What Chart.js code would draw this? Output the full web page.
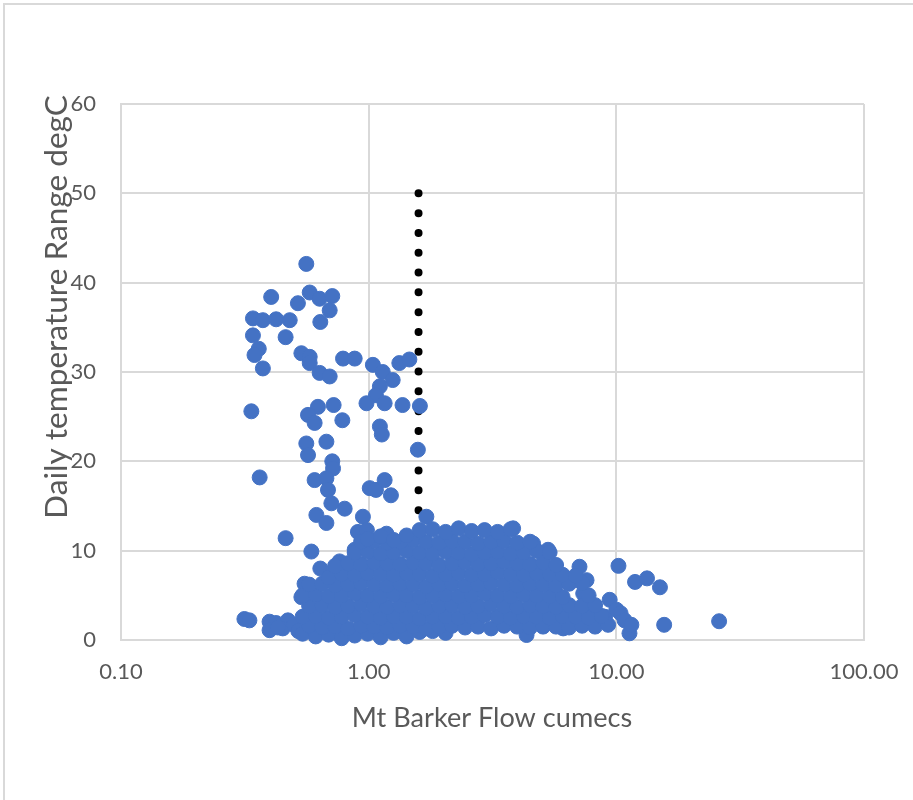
<!DOCTYPE html>
<html><head><meta charset="utf-8">
<script src="https://cdn.jsdelivr.net/npm/chart.js@4"></script>
<style>
html,body{margin:0;padding:0;background:#fff;overflow:hidden}
#wrap{position:relative;width:913px;height:800px}
#frame{position:absolute;left:3px;top:3px;width:1000px;height:1000px;border-top:2px solid #d9d9d9;border-left:2px solid #d9d9d9;pointer-events:none}
</style></head><body>
<div id="wrap"><canvas id="c"></canvas><div id="frame"></div></div>
<script>
// ---- data ----
const xTitle = 'Mt Barker Flow cumecs';
const yTitle = 'Daily temperature Range degC';
const xTicks = [0.1, 1, 10, 100];
const yTicks = [0, 10, 20, 30, 40, 50, 60];

// scattered high-range days (low flow)
const upperFlow = [0.56,0.404,0.518,0.578,0.634,0.713,0.696,0.638,0.341,0.374,0.423,0.48,0.462,0.341,0.36,0.346,0.374,0.535,0.578,0.578,0.634,0.696,0.788,0.878,1.04,1.14,1.25,1.33,1.46,1.11,1.07,0.98,1.16,1.37,1.61,0.336,0.624,0.722,0.569,0.605,0.783,0.675,0.56,0.569,1.11,1.13,1.58,0.713,0.718,0.363,0.605,0.675,0.685,0.707,0.8,0.615,0.675,1.01,1.07,1.16,1.23,0.948,1.71,0.462];
const upperRange = [42.1,38.4,37.7,38.9,38.2,38.5,36.9,35.6,36.0,35.8,35.9,35.8,33.9,34.1,32.6,31.9,30.4,32.1,31.7,31.0,29.9,29.5,31.5,31.5,30.8,30.0,29.1,31.0,31.4,28.4,27.4,26.5,26.5,26.3,26.2,25.6,26.1,26.3,25.2,24.3,24.6,22.2,22.0,20.7,23.9,23.0,21.3,20.0,19.2,18.2,17.9,18.1,16.8,15.3,14.7,14.0,13.1,17.0,16.8,17.9,16.2,13.8,13.8,11.4];

// points around the edge of the main cluster
const edgeFlow = [0.587,0.638,0.551,0.535,0.905,0.984,1.18,0.878,0.763,0.718,
  0.315,0.33,0.398,0.423,0.398,0.472,0.45,0.5,0.52,0.43,
  3.83,4.61,5.3,7.1,7.58,7.35,8.06,9.4,9.0,10.0,10.4,10.8,
  10.2,11.9,13.3,15.0,11.3,11.5,15.6,26.0,4.34,6.1,5.06];
const edgeRange = [9.9,8.0,6.3,4.8,12.1,12.3,11.9,10.1,8.8,7.5,
  2.35,2.2,2.05,1.9,1.1,2.2,1.3,1.7,1.0,1.4,
  12.5,10.8,10.1,8.2,6.7,5.2,3.7,4.5,2.6,3.4,3.0,2.2,
  8.3,6.5,6.9,5.9,0.75,1.7,1.7,2.1,0.56,1.3,1.5];

// dense cluster of days
const clusterFlow = [
  0.541,0.611,0.689,0.778,0.878,0.99,1.118,1.261,1.423,1.606,1.812,2.045,
  0.575,0.649,0.732,0.826,0.932,1.052,1.187,1.34,1.512,1.706,1.925,2.172,2.451,2.766,3.121,3.522,3.975,4.485,5.062,5.712,6.446,7.274,8.208,9.263,
  0.541,0.611,0.689,0.778,0.878,0.99,1.118,1.261,1.423,1.606,1.812,2.045,2.308,2.604,2.938,3.316,3.742,4.222,4.765,5.377,6.068,6.847,7.727,8.72,
  0.575,0.649,0.732,0.826,0.932,1.052,1.187,1.34,1.512,1.706,1.925,2.172,2.451,2.766,3.121,3.522,3.975,4.485,5.062,5.712,6.446,7.274,8.208,
  0.541,0.611,0.689,0.778,0.878,0.99,1.118,1.261,1.423,1.606,1.812,2.045,2.308,2.604,2.938,3.316,3.742,4.222,4.765,5.377,6.068,7.727,
  0.575,0.649,0.732,0.826,0.932,1.052,1.187,1.34,1.512,1.706,1.925,2.172,2.451,2.766,3.121,3.522,3.975,4.485,5.062,5.712,6.446,7.274,
  0.689,0.778,0.878,0.99,1.118,1.261,1.423,1.606,1.812,2.045,2.308,2.604,2.938,3.316,3.742,4.222,4.765,5.377,6.068,6.847,
  0.732,0.826,0.932,1.052,1.187,1.34,1.512,1.706,1.925,2.172,2.451,2.766,3.121,3.522,3.975,4.485,5.062,5.712,
  0.878,0.99,1.118,1.261,1.423,1.606,1.812,2.045,2.308,2.604,2.938,3.316,3.742,4.222,4.765,5.377,
  0.932,1.052,1.187,1.34,1.512,1.706,1.925,2.172,2.451,2.766,3.121,3.522,3.975,4.485,
  0.99,1.118,1.261,1.423,1.606,1.812,2.045,2.308,2.604,2.938,3.316,3.742];
const clusterRange = [
  0.7,0.4,0.6,0.2,0.5,0.7,0.3,0.8,0.4,0.9,1.0,0.8,
  1.6,1.4,1.5,1.3,1.6,1.5,1.4,1.6,1.5,1.3,1.5,1.6,1.4,1.5,1.3,1.6,1.5,1.4,1.6,1.5,1.4,1.6,1.5,1.7,
  2.6,2.7,2.5,2.6,2.8,2.6,2.5,2.7,2.6,2.4,2.6,2.7,2.5,2.6,2.8,2.6,2.5,2.7,2.6,2.5,2.7,2.6,2.5,2.7,
  3.8,3.9,3.7,3.8,4.0,3.8,3.7,3.9,3.8,3.6,3.8,3.9,3.7,3.8,4.0,3.8,3.7,3.9,3.8,3.7,3.9,3.8,3.9,
  5.0,5.1,4.9,5.0,5.2,5.0,4.9,5.1,5.0,4.8,5.0,5.1,4.9,5.0,5.2,5.0,4.9,5.1,5.0,4.9,4.8,5.0,
  6.2,6.3,6.1,6.2,6.4,6.2,6.1,6.3,6.2,6.0,6.2,6.3,6.1,6.2,6.4,6.2,6.1,6.3,6.2,6.1,6.3,6.4,
  7.0,7.4,7.3,7.5,7.4,7.3,7.5,7.4,7.2,7.4,7.5,7.3,7.4,7.6,7.4,7.3,7.5,7.4,7.3,7.2,
  8.3,8.6,8.5,8.7,8.6,8.5,8.7,8.6,8.4,8.6,8.7,8.5,8.6,8.8,8.6,8.5,8.7,8.4,
  9.8,9.9,9.7,9.8,10.0,9.8,9.7,9.9,9.8,9.6,9.8,9.9,9.7,9.8,10.0,9.8,
  11.0,11.1,10.9,11.0,11.2,11.0,10.9,11.1,11.0,10.8,11.0,11.1,10.9,11.0,
  11.3,11.6,11.2,11.7,12.3,12.4,12.1,12.5,12.2,12.3,12.1,12.4];

// dotted threshold marker
const thresholdFlow = 1.59;
const thresholdRange = [50, 14.5];

// ---- chart ----
const FONT = 'Lato, "Open Sans", sans-serif';
const TXT = '#595959';
const GRID = '#d9d9d9';
const BLUE = '#4472C4';

const allFlow = [...upperFlow, ...edgeFlow, ...clusterFlow];
const allRange = [...upperRange, ...edgeRange, ...clusterRange];
const scatterPts = allFlow.map((x, i) => ({x: x, y: allRange[i]}));
const thresholdPts = thresholdRange.map(y => ({x: thresholdFlow, y: y}));

function fittedFont(ctx, text, target) {
  ctx.font = '26px ' + FONT;
  const w = ctx.measureText(text).width;
  const size = Math.max(18, Math.min(32, 26 * target / w));
  return size.toFixed(1) + 'px ' + FONT;
}

const axisTitles = {
  id: 'axisTitles',
  afterDraw(chart) {
    const {ctx} = chart;
    ctx.save();
    ctx.fillStyle = TXT;
    ctx.textAlign = 'center';
    ctx.textBaseline = 'middle';
    ctx.font = fittedFont(ctx, xTitle, 280);
    ctx.fillText(xTitle, 492, 718);
    ctx.font = fittedFont(ctx, yTitle, 424);
    ctx.translate(57, 307);
    ctx.rotate(-Math.PI / 2);
    ctx.fillText(yTitle, 0, 0);
    ctx.restore();
  }
};

new Chart(document.getElementById('c'), {
  type: 'scatter',
  data: {
    datasets: [
      {
        data: scatterPts,
        backgroundColor: BLUE,
        borderColor: BLUE,
        borderWidth: 1,
        pointRadius: 7.5,
        pointHoverRadius: 7.5,
        clip: false,
        order: 0
      },
      {
        type: 'line',
        data: thresholdPts,
        showLine: true,
        borderColor: '#000',
        borderWidth: 8,
        borderDash: [0, 19.8],
        borderCapStyle: 'round',
        pointRadius: 0,
        fill: false,
        clip: false,
        order: 1
      }
    ]
  },
  options: {
    responsive: true,
    maintainAspectRatio: false,
    animation: false,
    events: [],
    layout: {padding: {top: 104, right: 49, left: 0, bottom: 0}},
    plugins: {legend: {display: false}, tooltip: {enabled: false}},
    scales: {
      x: {
        type: 'logarithmic',
        min: 0.1, max: 100,
        afterBuildTicks: s => { s.ticks = xTicks.map(v => ({value: v})); },
        afterFit: s => { s.height = 160; s.paddingRight = 0; s.paddingLeft = 0; },
        ticks: {
          callback: v => Number(v).toFixed(2),
          font: {family: FONT, size: 22},
          color: TXT, padding: 19, autoSkip: false, maxRotation: 0
        },
        grid: {color: GRID, lineWidth: 2, drawTicks: false},
        border: {color: GRID, width: 2}
      },
      y: {
        type: 'linear',
        min: 0, max: 60,
        afterBuildTicks: s => { s.ticks = yTicks.map(v => ({value: v})); },
        afterFit: s => { s.width = 121; s.paddingTop = 0; s.paddingBottom = 0; },
        ticks: {font: {family: FONT, size: 22}, color: TXT, padding: 25},
        grid: {color: GRID, lineWidth: 2, drawTicks: false},
        border: {color: GRID, width: 2}
      }
    }
  },
  plugins: [axisTitles]
});
</script>
</body></html>
